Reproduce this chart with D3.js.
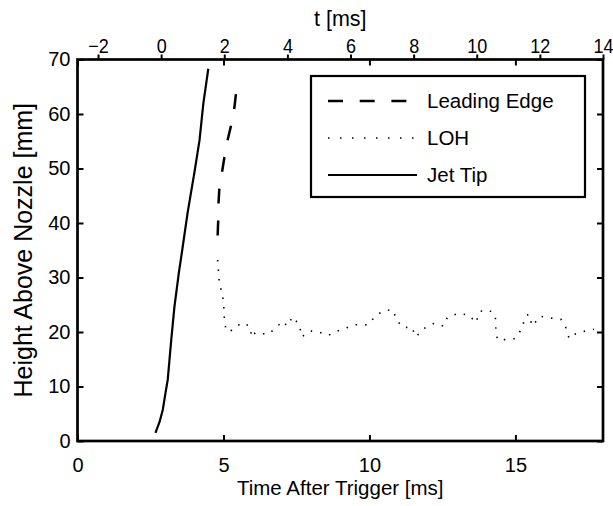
<!DOCTYPE html>
<html>
<head>
<meta charset="utf-8">
<script src="https://cdn.jsdelivr.net/npm/d3@7"></script>
<style>
  body { margin: 0; background: #fff; }
  text { font-family: "Liberation Sans", Arial, Helvetica, sans-serif; fill: #000; }
</style>
</head>
<body>
<div id="chart"></div>
<script>
// Jet tip (solid)
var jetTime   = [2.67, 2.81, 2.92, 3.01, 3.09, 3.12, 3.21, 3.32, 3.47, 3.60, 3.77, 3.86, 4.00, 4.18, 4.31, 4.48];
var jetHeight = [1.5, 3.5, 5.7, 8.7, 11.2, 13.0, 18.5, 24.6, 30.8, 35.5, 41.8, 44.7, 49.1, 55.2, 61.9, 68.3];

// Leading edge (dashed)
var edgeTime   = [4.80, 4.82, 4.83, 4.86, 4.95, 5.03, 5.14, 5.26, 5.37, 5.43];
var edgeHeight = [37.7, 40.5, 43.6, 46.5, 49.3, 52.0, 55.2, 57.9, 61.0, 63.8];

// LOH (dotted)
var lohTime = [4.80, 4.83, 4.86, 4.97, 5.01, 5.03, 5.09, 5.28, 5.62, 5.89, 5.98, 6.09, 6.29, 6.54, 6.80,
  7.03, 7.18, 7.37, 7.60, 7.68, 7.97, 8.26, 8.60, 8.91, 9.23, 9.59, 9.94, 10.22, 10.48, 10.79,
  10.96, 11.16, 11.45, 11.59, 11.85, 12.22, 12.54, 12.67, 13.05, 13.42, 13.64, 13.79, 14.10, 14.31, 14.33,
  14.38, 14.65, 14.99, 15.22, 15.33, 15.45, 15.58, 15.85, 16.15, 16.57, 16.72, 16.84, 17.04, 17.41, 17.69];
var lohHeight = [33.2, 31.0, 28.8, 26.8, 24.6, 22.5, 20.2, 20.3, 21.7, 21.1, 19.0, 19.9, 19.7, 19.6, 20.8,
  22.0, 21.1, 22.8, 21.3, 19.1, 20.2, 20.0, 19.4, 20.2, 20.8, 21.4, 21.3, 23.0, 23.9, 24.1,
  22.0, 20.8, 20.9, 19.1, 20.6, 21.6, 21.1, 22.7, 23.4, 23.1, 21.7, 23.8, 24.0, 23.1, 20.8,
  18.6, 18.6, 18.8, 20.6, 22.7, 23.3, 21.1, 22.9, 22.6, 22.3, 20.9, 18.8, 19.6, 20.2, 20.5];

var bottomTicks = [0, 5, 10, 15];
var leftTicks = [0, 10, 20, 30, 40, 50, 60, 70];
var topTicks = [-2, 0, 2, 4, 6, 8, 10, 12, 14];
var legendLabels = ["Leading Edge", "LOH", "Jet Tip"];

// set the dimensions and margins of the graph
var margin = {top: 59.5, right: 10, bottom: 65, left: 77.5},
    width = 613 - margin.left - margin.right,
    height = 506 - margin.top - margin.bottom;

var svg = d3.select("#chart")
  .append("svg")
    .attr("width", 613)
    .attr("height", 506)
  .append("g")
    .attr("transform", "translate(" + margin.left + "," + margin.top + ")");

var x = d3.scaleLinear().domain([0, 18]).range([0, width]);
var xt = d3.scaleLinear().domain([-2.65, 14]).range([0, width]);
var y = d3.scaleLinear().domain([0, 70]).range([height, 0]);

function styleAxis(g, fs) {
  g.select(".domain").remove();
  g.selectAll(".tick line").attr("stroke", "#000").attr("stroke-width", 2);
  g.selectAll(".tick text").style("font-size", fs + "px").attr("fill", "#000");
}

// bottom axis
svg.append("g")
  .attr("transform", "translate(0," + height + ")")
  .call(d3.axisBottom(x).tickValues(bottomTicks).tickSizeInner(-6).tickSizeOuter(0).tickPadding(17))
  .call(styleAxis, 20);

// mirrored ticks on top
svg.append("g")
  .call(d3.axisTop(x).tickValues(bottomTicks).tickSizeInner(-6).tickSizeOuter(0).tickFormat(""))
  .call(styleAxis, 20);

// left axis
svg.append("g")
  .call(d3.axisLeft(y).tickValues(leftTicks).tickSizeInner(-6).tickSizeOuter(0).tickPadding(7))
  .call(styleAxis, 20);

// mirrored ticks on right
svg.append("g")
  .attr("transform", "translate(" + width + ",0)")
  .call(d3.axisRight(y).tickValues(leftTicks).tickSizeInner(-6).tickSizeOuter(0).tickFormat(""))
  .call(styleAxis, 20);

// top t axis (digits slightly condensed, like the reference)
var topAxis = svg.append("g")
  .call(d3.axisTop(xt).tickValues(topTicks).tickSizeInner(5).tickSizeOuter(0).tickPadding(2))
  .call(styleAxis, 20);
topAxis.selectAll(".tick text")
  .attr("transform", "scale(0.9,1)");

// box
svg.append("rect")
  .attr("width", width)
  .attr("height", height)
  .attr("fill", "none")
  .attr("stroke", "#000")
  .attr("stroke-width", 2.7);

function series(t, h) {
  return t.map(function(d, i) { return [d, h[i]]; });
}
var line = d3.line()
  .x(function(d) { return x(d[0]); })
  .y(function(d) { return y(d[1]); });

svg.append("path")
  .datum(series(jetTime, jetHeight))
  .attr("fill", "none").attr("stroke", "#000").attr("stroke-width", 2.2)
  .attr("d", line);

svg.append("path")
  .datum(series(edgeTime, edgeHeight))
  .attr("fill", "none").attr("stroke", "#000").attr("stroke-width", 2.5)
  .attr("stroke-dasharray", "15,17")
  .attr("d", line);

svg.append("path")
  .datum(series(lohTime, lohHeight))
  .attr("fill", "none").attr("stroke", "#000").attr("stroke-width", 1.6)
  .attr("stroke-dasharray", "1.5,8")
  .attr("d", line);

// legend
var legend = svg.append("g").attr("transform", "translate(" + (311 - margin.left) + "," + (76 - margin.top) + ")");
legend.append("rect")
  .attr("width", 274).attr("height", 121)
  .attr("fill", "#fff").attr("stroke", "#000").attr("stroke-width", 2.2);

var legendDash = ["15,16.7", "1.5,10.5", null];
var legendWidth = [2.5, 1.6, 2.2];
legend.selectAll(".entry")
  .data(legendLabels)
  .enter().append("g")
    .attr("class", "entry")
    .attr("transform", function(d, i) { return "translate(0," + (25 + i * 37) + ")"; })
    .each(function(d, i) {
      var g = d3.select(this);
      g.append("line")
        .attr("x1", 17).attr("x2", 106)
        .attr("stroke", "#000").attr("stroke-width", legendWidth[i])
        .attr("stroke-dasharray", legendDash[i]);
      g.append("text")
        .attr("x", 116).attr("dy", "0.35em")
        .style("font-size", "20.5px")
        .text(d);
    });

// axis labels
svg.append("text")
  .attr("x", width / 2).attr("y", height + 54)
  .attr("text-anchor", "middle")
  .style("font-size", "20.5px")
  .text("Time After Trigger [ms]");

svg.append("text")
  .attr("transform", "translate(" + (32 - margin.left) + "," + (height / 2) + ") rotate(-90)")
  .attr("text-anchor", "middle")
  .style("font-size", "25px")
  .text("Height Above Nozzle [mm]");

svg.append("text")
  .attr("x", width / 2).attr("y", 26 - margin.top)
  .attr("text-anchor", "middle")
  .style("font-size", "21.5px")
  .text("t [ms]");
</script>
</body>
</html>
